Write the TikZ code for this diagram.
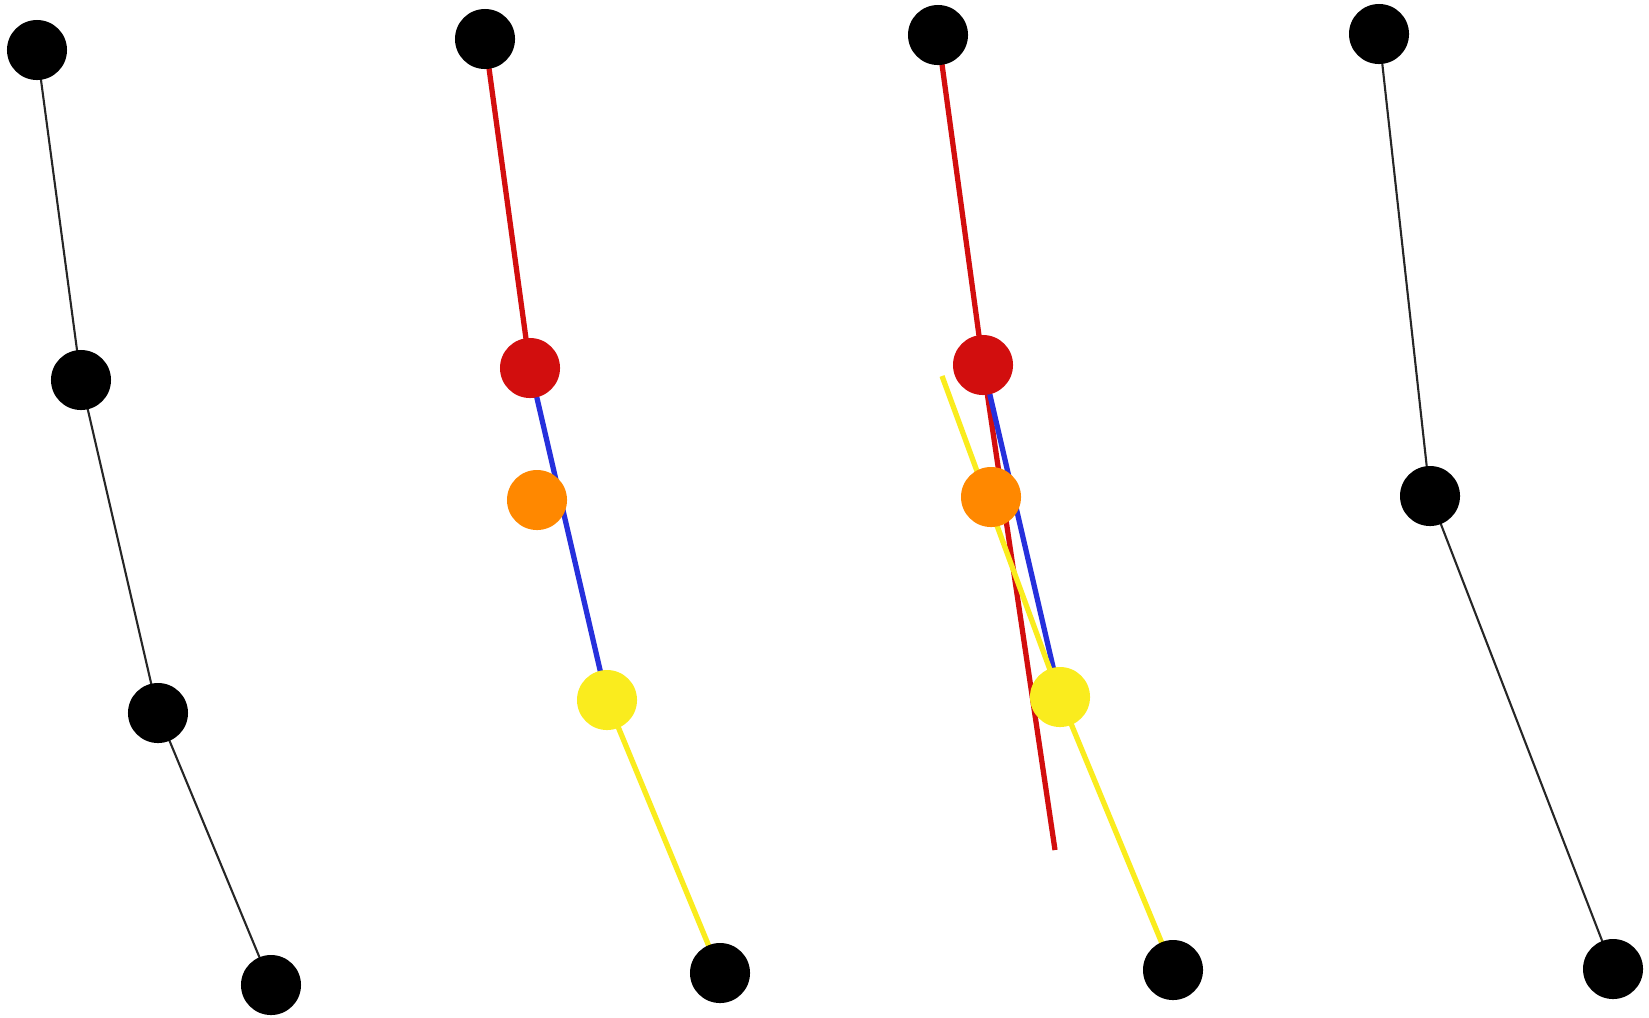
\documentclass[tikz,border=0pt]{standalone}
\usepackage{xcolor}
\usetikzlibrary{backgrounds}
\definecolor{dotred}{RGB}{210,14,14}
\definecolor{dotorange}{RGB}{255,136,0}
\definecolor{dotyellow}{RGB}{250,236,30}
\definecolor{lineblue}{RGB}{38,48,220}
\tikzset{
  dot/.style={circle, fill=#1, inner sep=0pt, minimum size=0.6cm},
  dot/.default=black,
  thin line/.style={line width=0.6pt, black!85},
  colour line/.style={line width=1.5pt, #1}
}

\begin{document}
\begin{tikzpicture}[x=0.01cm, y=-0.01cm]
\useasboundingbox (0,0) rectangle (1649,1017);

% first chain
\node[dot] (a1) at (37,50) {};
\node[dot] (a2) at (81,380) {};
\node[dot] (a3) at (158,713) {};
\node[dot] (a4) at (271,985) {};

% second chain
\node[dot] (b1) at (485,39) {};
\node[dot=dotred] (b2) at (530,368) {};
\node[dot=dotorange] (b3) at (537,500) {};
\node[dot=dotyellow] (b4) at (607,700) {};
\node[dot] (b5) at (720,973) {};

% third chain
\node[dot] (c1) at (938,35) {};
\node[dot=dotred] (c2) at (983,365) {};
\node[dot=dotorange] (c3) at (991,497) {};
\node[dot=dotyellow] (c4) at (1060,697) {};
\node[dot] (c5) at (1173,970) {};
\coordinate (cred) at (1055,850);
\coordinate (cyel) at (942,376);

% fourth chain
\node[dot] (d1) at (1379,34) {};
\node[dot] (d2) at (1430,496) {};
\node[dot] (d3) at (1613,969) {};

\begin{scope}[on background layer]
\draw[thin line] (a1.center) -- (a2.center) -- (a3.center) -- (a4.center);

\draw[colour line=dotred] (b1.center) -- (b2.center);
\draw[colour line=lineblue] (b2.center) -- (b4.center);
\draw[colour line=dotyellow] (b4.center) -- (b5.center);

\draw[colour line=dotred] (c1.center) -- (c2.center) -- (cred);
\draw[colour line=lineblue] (c2.center) -- (c4.center);
\draw[colour line=dotyellow] (cyel) -- (c4.center) -- (c5.center);

\draw[thin line] (d1.center) -- (d2.center) -- (d3.center);
\end{scope}

\end{tikzpicture}
\end{document}
